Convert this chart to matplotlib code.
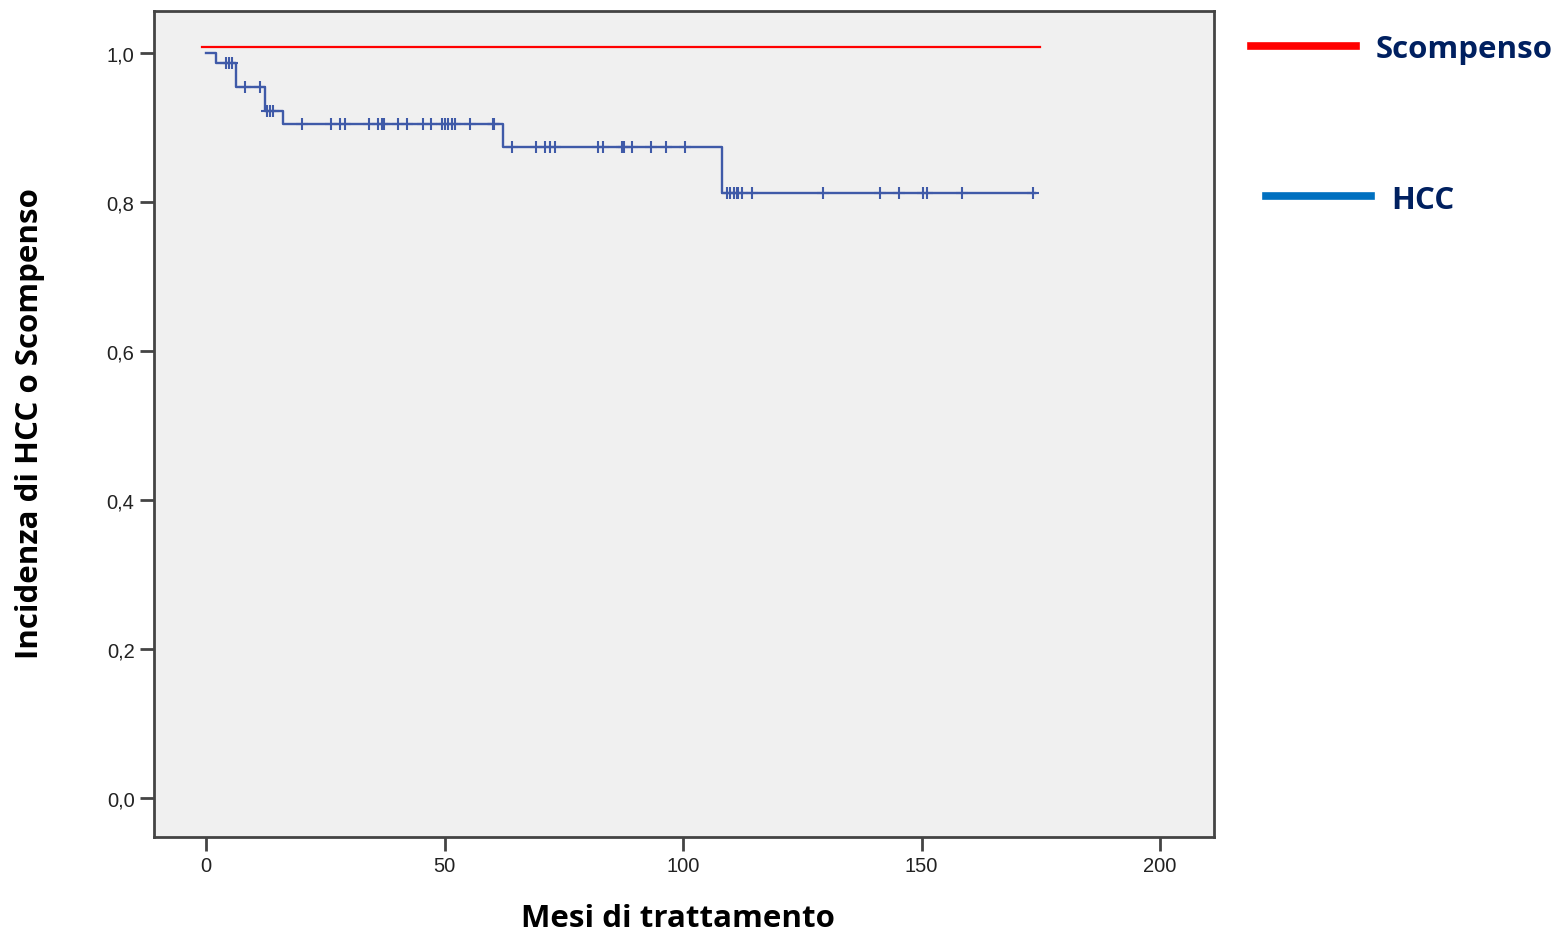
import matplotlib
matplotlib.use("Agg")
import matplotlib.pyplot as plt
from matplotlib.lines import Line2D

# step curve (HCC): times where the curve drops, and level after each drop
step_times = [0, 2.1, 6.2, 12.4, 16.2, 62.2, 108.2]
step_levels = [1.0, 0.986, 0.954, 0.922, 0.904, 0.874, 0.812]
curve_end = 173.8

# censored observations (months)
censor_times = [4.2, 4.9, 5.4, 8.2, 11.3, 12.8, 13.5, 14.1,
                20.2, 26.3, 28.1, 29.1, 34.2, 36.1, 36.8, 37.3, 40.3, 42.2,
                45.4, 47.1, 49.4, 50.1, 50.8, 51.5, 52.2, 55.3, 60.1, 60.4,
                64.2, 69.2, 71.1, 72.1, 73.2, 82.2, 83.2, 87.1, 87.6, 89.2,
                93.3, 96.4, 100.4,
                109.2, 109.9, 110.6, 111.3, 111.6, 112.3, 114.4, 129.3, 141.3,
                145.3, 150.3, 151.1, 158.4, 173.3]

# Scompenso line
scomp_x = [-0.8, 174.8]
scomp_y = [1.008, 1.008]

x_ticks = [0, 50, 100, 150, 200]
y_ticks = [0.0, 0.2, 0.4, 0.6, 0.8, 1.0]


def level_at(t):
    lev = step_levels[0]
    for st, sl in zip(step_times, step_levels):
        if t >= st:
            lev = sl
    return lev


fig = plt.figure(figsize=(15.59, 9.37), dpi=100)
ax = fig.add_axes([0.0988, 0.1057, 0.6799, 0.8815])
ax.set_facecolor("#F0F0F0")

blue = "#3F5AA8"
xs = step_times + [curve_end]
ys = step_levels + [step_levels[-1]]
ax.step(xs, ys, where="post", color=blue, lw=1.7)
ax.plot(censor_times, [level_at(t) for t in censor_times], "+", color=blue,
        markersize=9, markeredgewidth=1.5)

ax.plot(scomp_x, scomp_y, color="#FF0000", lw=1.6)

ax.set_xlim(-10.9, 211.3)
ax.set_ylim(-0.052, 1.056)
ax.set_xticks(x_ticks)
ax.set_yticks(y_ticks)
ax.set_xticklabels([str(t) for t in x_ticks])
ax.set_yticklabels([f"{t:.1f}".replace(".", ",") for t in y_ticks])
ax.tick_params(axis="both", length=10, width=2, color="#444444",
               labelsize=14.5, labelcolor="#222222", pad=4)
for sp in ax.spines.values():
    sp.set_color("#444444")
    sp.set_linewidth(2)
for lab in ax.get_xticklabels() + ax.get_yticklabels():
    lab.set_family("Liberation Sans")

fig.text(0.435, 1 - 919 / 937, "Mesi di trattamento", ha="center", va="center",
         fontsize=22.5, fontweight="bold", family="Open Sans")
fig.text(0.019, 0.548, "Incidenza di HCC o Scompenso", ha="center", va="center",
         rotation=90, fontsize=22.5, fontweight="bold", family="Open Sans")

# legend drawn by hand, right of the plot
fig.add_artist(Line2D([1251 / 1559, 1356 / 1559], [1 - 47 / 937, 1 - 47 / 937],
                      color="#FF0000", lw=5.5, transform=fig.transFigure))
fig.add_artist(Line2D([1266 / 1559, 1371 / 1559], [1 - 197 / 937, 1 - 197 / 937],
                      color="#0070C0", lw=5.5, transform=fig.transFigure))
fig.text(1376 / 1559, 1 - 50 / 937, "Scompenso", ha="left", va="center",
         fontsize=22.5, fontweight="bold", color="#002060", family="Open Sans")
fig.text(1391 / 1559, 1 - 201 / 937, "HCC", ha="left", va="center",
         fontsize=22.5, fontweight="bold", color="#002060", family="Open Sans")

fig.savefig("out.png", dpi=100)
